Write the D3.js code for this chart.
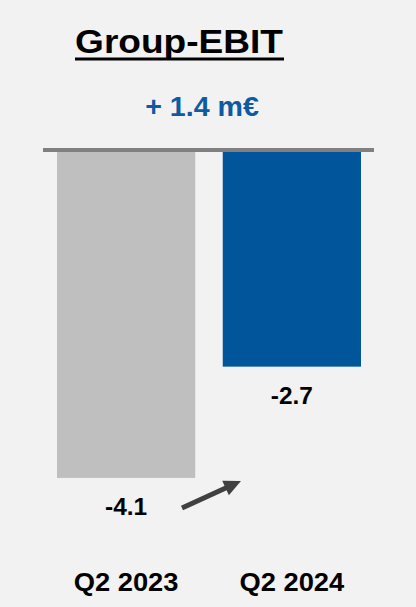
<!DOCTYPE html>
<html><head><meta charset="utf-8">
<script src="https://cdn.jsdelivr.net/npm/d3@7"></script>
<style>html,body{margin:0;padding:0;background:#f2f2f2;}svg{display:block;}</style>
</head><body>
<script>
const categories = ["Q2 2023", "Q2 2024"];
const values = [-4.1, -2.7];
const valueLabels = ["-4.1", "-2.7"];
const colors = ["#bfbfbf", "#00559b"];
const title = "Group-EBIT";
const deltaLabel = "+ 1.4 m€";

const W = 416, H = 607;
const svg = d3.select("body").append("svg").attr("width", W).attr("height", H);
svg.append("rect").attr("width", W).attr("height", H).attr("fill", "#f2f2f2");

const x = d3.scaleBand().domain(categories).range([57, 361]).paddingInner(0.166).paddingOuter(0);
const y = d3.scaleLinear().domain([0, -5]).range([152, 152 + 5 * 79.5]);

const font = "'Liberation Sans', Arial, sans-serif";

function stretchedText(g, cx, cy, txt, size, color, sx) {
  return g.append("text")
    .attr("transform", `translate(${cx},${cy}) scale(${sx},1)`)
    .attr("text-anchor", "middle")
    .attr("font-family", font)
    .attr("font-weight", "bold")
    .attr("font-size", size)
    .attr("fill", color)
    .text(txt);
}

// title
stretchedText(svg, 179, 52.5, title, 34, "#000", 1.09);
svg.append("rect").attr("x", 75).attr("y", 57.5).attr("width", 209).attr("height", 3).attr("fill", "#000");

// delta
stretchedText(svg, 202, 116, deltaLabel, 27, "#0f5aa0", 1.06);

// bars
svg.selectAll("rect.bar").data(values).enter().append("rect")
  .attr("class", "bar")
  .attr("x", (d, i) => x(categories[i]))
  .attr("width", x.bandwidth())
  .attr("y", y(0))
  .attr("height", d => y(d) - y(0))
  .attr("fill", (d, i) => colors[i]);

// zero line
svg.append("rect").attr("x", 43).attr("y", y(0) - 4).attr("width", 331).attr("height", 4).attr("fill", "#808080");

// value labels
values.forEach((v, i) => {
  stretchedText(svg, x(categories[i]) + x.bandwidth() / 2, y(v) + 37, valueLabels[i], 23.5, "#000", 1.04);
});

// category labels
categories.forEach((c, i) => {
  stretchedText(svg, x(c) + x.bandwidth() / 2, 591, c, 26, "#000", 1.05);
});

// arrow
const x0 = 182, y0 = 508, x1 = 241, y1 = 481;
const dx = x1 - x0, dy = y1 - y0, L = Math.hypot(dx, dy);
const ux = dx / L, uy = dy / L, px = -uy, py = ux;
const headLen = 17, headW = 8;
const bx = x1 - ux * headLen, by = y1 - uy * headLen;
svg.append("line").attr("x1", x0).attr("y1", y0).attr("x2", bx + ux * 2).attr("y2", by + uy * 2)
  .attr("stroke", "#404040").attr("stroke-width", 5);
svg.append("path")
  .attr("d", `M${x1},${y1}L${bx + px * headW},${by + py * headW}L${bx - px * headW},${by - py * headW}Z`)
  .attr("fill", "#404040");
</script>
</body></html>
